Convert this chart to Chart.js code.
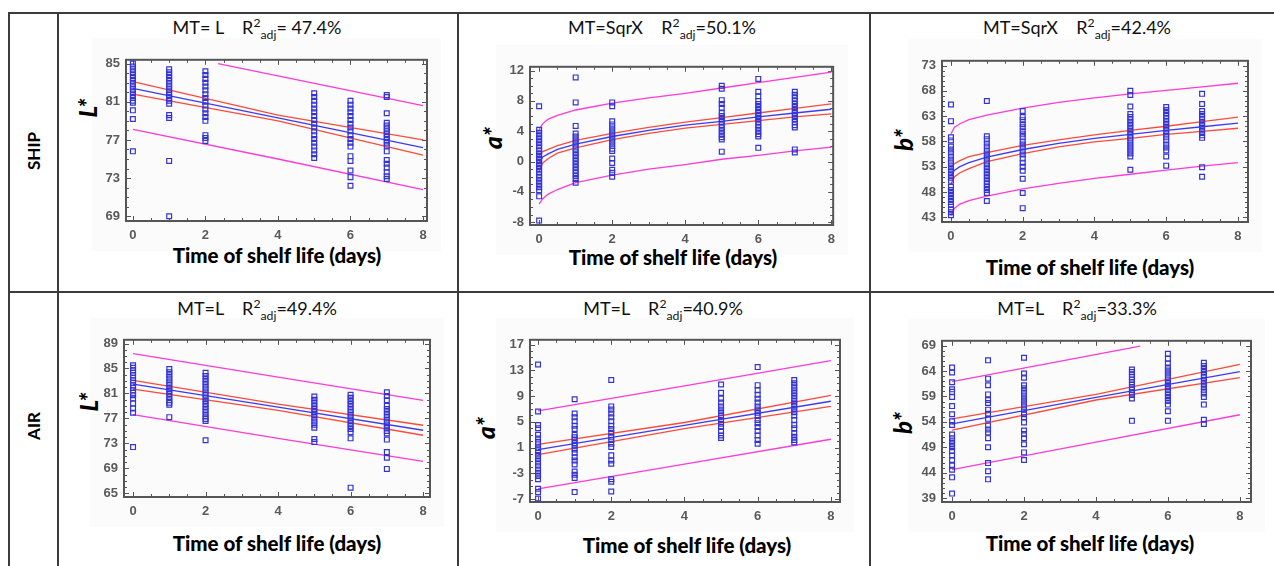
<!DOCTYPE html>
<html>
<head>
<meta charset="utf-8">
<script src="https://cdn.jsdelivr.net/npm/chart.js@4.4.1/dist/chart.umd.min.js"></script>
<style>
    body { margin: 0; width: 1274px; height: 566px; background: #fff; position: relative; overflow: hidden; font-family: Lato, 'Open Sans', sans-serif; color: #111; }
    .line { position: absolute; background: #3c3c3c; }
    .bg { position: absolute; background: #fbfbfb; }
    .title { position: absolute; transform: translate(-50%, -50%); font-size: 18px; white-space: pre; }
    .title sup, .title sub { font-size: 0.68em; line-height: 0; }
    .xt { position: absolute; transform: translate(-50%, -50%); font-size: 20.5px; font-weight: 900; white-space: pre; color: #000; }
    .yt { position: absolute; transform: translate(-50%, -50%) rotate(-90deg); font-size: 24px; font-weight: 900; font-style: italic; white-space: pre; color: #000; }
    .row { position: absolute; transform: translate(-50%, -50%) rotate(-90deg); font-size: 17px; font-weight: bold; color: #000; }
    canvas { position: absolute; }
</style>
</head>
<body>
<script>
// sampling days and x positions used for the fitted lines
const days = [0, 1, 2, 5, 6, 7];
const linX = [0, 4, 8];
const sqrtX = [0, 0.1, 0.25, 0.5, 1, 2, 3, 4, 5, 6, 7, 8];
const xTicks = [0, 2, 4, 6, 8];

// SHIP - L*
const shipLTicks = [69, 73, 77, 81, 85];
const shipL = [
    [85.0, 84.7, 84.4, 84.1, 83.8, 83.5, 83.2, 82.9, 82.6, 82.3, 82.0, 81.7, 81.4, 81.1, 80.9, 80.1, 79.2, 75.8],
    [84.4, 84.1, 83.8, 83.5, 83.2, 82.9, 82.6, 82.3, 82.0, 81.7, 81.4, 81.1, 80.8, 79.6, 79.3, 74.8, 69.0],
    [84.2, 83.8, 83.4, 83.0, 82.6, 82.2, 81.8, 81.4, 81.0, 80.6, 80.2, 79.8, 79.4, 79.0, 77.5, 77.2, 76.9],
    [81.9, 81.5, 81.1, 80.7, 80.3, 79.9, 79.5, 79.1, 78.7, 78.3, 77.9, 77.5, 77.1, 76.7, 76.3, 75.9, 75.5, 75.1],
    [81.1, 80.7, 80.3, 79.9, 79.5, 79.1, 78.7, 78.3, 77.9, 77.5, 77.1, 76.7, 76.3, 75.3, 74.8, 73.8, 73.1, 72.2],
    [81.7, 81.5, 79.8, 78.8, 78.5, 78.2, 77.9, 77.6, 77.3, 77.0, 76.7, 76.4, 75.8, 74.9, 74.5, 74.1, 73.6, 73.2, 72.9]
];
const shipLFit = [82.4, 79.3, 76.2];
const shipLConfHi = [83.1, 79.6, 77.0];
const shipLConfLo = [81.8, 79.0, 75.4];
const shipLPredHiX = [2.35, 8];
const shipLPredHi = [85.0, 80.6];
const shipLPredLo = [78.1, 75.0, 71.8];

// SHIP - a*
const shipATicks = [-8, -4, 0, 4, 8, 12];
const shipA = [
    [7.3, 4.2, 3.8, 3.4, 3.0, 2.6, 2.2, 1.8, 1.4, 1.0, 0.6, 0.2, -0.2, -0.6, -1.0, -1.4, -1.8, -2.2, -2.6, -3.0, -3.4, -3.8, -4.6, -7.8],
    [11.1, 7.8, 4.7, 3.7, 3.3, 2.9, 2.5, 2.1, 1.7, 1.3, 0.9, 0.5, 0.1, -0.3, -0.7, -1.1, -1.5, -1.9, -2.3, -2.8],
    [7.8, 7.3, 5.3, 4.9, 4.5, 4.1, 3.7, 3.3, 2.9, 2.5, 2.1, 1.7, 1.4, 0.4, -0.2, -1.1, -1.5, -2.0],
    [10.0, 9.6, 8.1, 7.6, 7.1, 6.4, 6.0, 5.6, 5.2, 4.8, 4.4, 4.0, 3.6, 3.2, 2.9, 1.3],
    [10.9, 9.2, 8.6, 8.0, 7.6, 7.2, 6.8, 6.4, 6.0, 5.6, 5.2, 4.8, 4.4, 4.0, 3.6, 3.3, 1.8],
    [9.2, 8.8, 8.4, 8.0, 7.6, 7.2, 6.8, 6.4, 6.0, 5.6, 5.2, 4.8, 4.5, 1.6, 1.2]
];
const shipAFit = [-0.2, 0.6, 1.0, 1.6, 2.3, 3.3, 4.1, 4.8, 5.3, 5.9, 6.4, 6.9];
const shipAConfHi = [0.8, 1.3, 1.6, 2.1, 2.8, 3.7, 4.5, 5.2, 5.8, 6.4, 7.0, 7.6];
const shipAConfLo = [-1.2, -0.2, 0.4, 1.1, 1.8, 2.9, 3.7, 4.4, 4.9, 5.4, 5.9, 6.3];
const shipAPredHi = [4.2, 5.0, 5.6, 6.1, 6.8, 7.7, 8.4, 9.0, 9.7, 10.4, 11.1, 11.8];
const shipAPredLo = [-5.6, -4.9, -4.3, -3.7, -2.8, -1.8, -1.0, -0.4, 0.3, 0.8, 1.4, 1.9];

// SHIP - b*
const shipBTicks = [43, 48, 53, 58, 63, 68, 73];
const shipB = [
    [65.3, 62.0, 58.8, 58.2, 57.0, 56.4, 55.8, 55.0, 54.4, 53.8, 53.2, 52.6, 52.0, 51.4, 50.8, 50.2, 49.0, 48.4, 47.8, 47.2, 46.6, 46.0, 45.4, 44.6, 44.0, 43.4],
    [66.0, 59.0, 58.4, 57.6, 57.0, 56.2, 55.6, 55.0, 54.4, 53.8, 53.2, 52.6, 52.0, 51.4, 50.8, 50.2, 49.6, 49.0, 48.4, 47.8, 46.2],
    [64.0, 62.8, 62.2, 61.4, 60.8, 60.0, 59.4, 58.8, 58.0, 57.4, 56.8, 56.0, 55.4, 54.6, 53.8, 53.0, 52.2, 50.6, 47.8, 44.8],
    [68.0, 67.2, 64.9, 63.4, 62.8, 62.2, 61.6, 61.0, 60.4, 59.8, 59.2, 58.6, 58.0, 57.4, 56.8, 56.2, 55.6, 55.0, 52.4],
    [64.8, 64.2, 63.6, 63.0, 62.4, 61.8, 61.2, 60.6, 60.0, 59.4, 58.8, 58.2, 57.4, 56.8, 56.2, 55.0, 53.2],
    [67.4, 65.4, 64.0, 63.4, 62.8, 62.2, 61.6, 61.0, 60.4, 59.8, 59.2, 58.7, 52.9, 51.0]
];
const shipBFit = [51.2, 52.3, 53.0, 53.8, 54.9, 56.4, 57.6, 58.6, 59.4, 60.2, 60.9, 61.6];
const shipBConfHi = [52.8, 53.6, 54.2, 55.0, 55.8, 57.2, 58.3, 59.3, 60.2, 61.0, 61.9, 62.8];
const shipBConfLo = [49.6, 51.0, 51.8, 52.6, 54.0, 55.6, 56.9, 57.9, 58.6, 59.4, 60.0, 60.6];
const shipBPredHi = [59.5, 60.8, 61.5, 62.3, 63.2, 64.6, 65.7, 66.6, 67.4, 68.1, 68.8, 69.5];
const shipBPredLo = [43.3, 44.8, 45.6, 46.3, 47.2, 48.6, 49.7, 50.7, 51.5, 52.3, 53.1, 53.8];

// AIR - L*
const airLTicks = [65, 69, 73, 77, 81, 85, 89];
const airL = [
    [85.5, 85.1, 84.7, 84.3, 83.9, 83.5, 83.1, 82.7, 82.3, 81.9, 81.5, 81.1, 80.7, 80.2, 79.4, 78.6, 77.9, 72.4],
    [84.9, 84.4, 83.9, 83.4, 82.9, 82.4, 81.9, 81.4, 80.9, 80.4, 79.9, 79.5, 79.2, 77.2],
    [84.3, 83.8, 83.3, 82.8, 82.3, 81.8, 81.3, 80.8, 80.3, 79.8, 79.3, 78.8, 78.3, 77.8, 77.3, 76.9, 76.6, 73.5],
    [80.5, 80.0, 79.5, 79.0, 78.5, 78.0, 77.5, 77.0, 76.5, 76.0, 75.5, 73.7, 73.2],
    [80.8, 80.3, 79.8, 79.3, 78.8, 78.3, 77.8, 77.3, 76.8, 76.3, 75.8, 75.3, 74.8, 73.8, 65.9],
    [81.2, 80.6, 79.9, 79.0, 78.5, 78.0, 77.5, 77.0, 76.5, 76.0, 75.5, 75.0, 74.6, 73.6, 71.6, 70.7, 68.9]
];
const airLFit = [82.5, 78.8, 75.1];
const airLConfHi = [83.1, 79.3, 75.9];
const airLConfLo = [81.7, 78.3, 74.3];
const airLPredHi = [87.4, 83.6, 79.9];
const airLPredLo = [77.6, 73.8, 70.1];

// AIR - a*
const airATicks = [-7, -3, 1, 5, 9, 13, 17];
const airA = [
    [13.9, 6.6, 4.5, 4.0, 3.0, 2.4, 1.9, 1.5, 1.0, 0.6, 0.2, -0.3, -0.8, -1.3, -1.8, -2.4, -2.9, -3.4, -3.9, -5.4, -5.9, -6.9],
    [8.5, 6.3, 5.7, 5.1, 4.4, 3.9, 3.0, 2.6, 2.2, 1.7, 1.3, 0.7, 0.2, -0.5, -1.0, -1.6, -2.7, -3.2, -3.7, -5.9],
    [11.5, 7.4, 6.9, 6.3, 5.7, 5.1, 4.4, 3.9, 3.3, 2.7, 2.2, 1.6, 1.1, -0.2, -1.0, -1.5, -3.9, -4.3, -5.8],
    [10.8, 9.5, 8.6, 8.0, 7.4, 6.9, 6.4, 5.9, 5.3, 4.7, 4.2, 3.6, 2.9, 2.5],
    [13.5, 10.7, 9.9, 9.2, 8.6, 8.0, 7.4, 6.9, 6.4, 5.9, 5.3, 4.8, 4.2, 3.6, 2.9, 2.2, 1.6],
    [11.5, 11.0, 10.5, 10.0, 9.5, 9.0, 8.5, 8.0, 7.5, 7.0, 6.5, 6.0, 5.3, 4.5, 4.0, 3.2, 2.7, 2.2, 1.8]
];
const airAFit = [0.7, 4.45, 8.2];
const airAConfHi = [1.5, 4.9, 9.1];
const airAConfLo = [-0.1, 3.95, 7.4];
const airAPredHi = [6.7, 10.6, 14.5];
const airAPredLo = [-5.4, -1.55, 2.3];

// AIR - b*
const airBTicks = [39, 44, 49, 54, 59, 64, 69];
const airB = [
    [64.7, 63.7, 61.8, 60.4, 59.9, 58.9, 57.1, 55.5, 54.1, 53.4, 51.5, 50.8, 50.2, 49.6, 49.0, 48.3, 47.4, 46.5, 45.4, 44.6, 43.1, 39.9],
    [66.1, 62.5, 61.2, 59.4, 58.3, 57.7, 56.4, 55.6, 54.6, 53.3, 52.5, 51.9, 50.8, 49.0, 45.9, 44.3, 42.7],
    [66.6, 63.5, 62.7, 61.2, 60.6, 60.0, 59.4, 58.8, 58.2, 57.6, 57.0, 56.4, 55.5, 54.9, 53.9, 52.3, 51.6, 50.8, 49.6, 48.0, 46.5],
    [64.3, 63.8, 63.3, 62.8, 62.3, 61.8, 61.3, 60.8, 60.3, 59.8, 59.3, 58.6, 54.2],
    [67.4, 66.4, 65.5, 64.7, 64.1, 63.5, 62.9, 62.3, 61.7, 61.1, 60.5, 59.9, 59.3, 58.7, 58.1, 57.4, 56.1, 54.2],
    [65.6, 65.0, 64.4, 63.8, 63.2, 62.6, 62.0, 61.4, 60.8, 60.2, 59.6, 58.9, 57.4, 54.4, 53.6]
];
const airBFit = [53.6, 58.8, 63.9];
const airBConfHi = [54.6, 59.4, 65.3];
const airBConfLo = [52.4, 58.3, 62.7];
const airBPredHiX = [0, 5.23];
const airBPredHi = [61.9, 68.9];
const airBPredLo = [44.6, 50.0, 55.4];

const FIT = '#3b3bf5', CONF = '#ff4a3a', PRED = '#ff3ad8', PTS = '#3434d6';

const panels = [
    { frame: [126, 52, 427, 221], xr: [-0.19, 8.11], yr: [68.5, 85.4], yTicks: shipLTicks, pts: shipL,
      lines: [[linX, shipLPredLo, PRED], [shipLPredHiX, shipLPredHi, PRED], [linX, shipLConfHi, CONF], [linX, shipLConfLo, CONF], [linX, shipLFit, FIT]],
      title: 'MT= L    R<sup>2</sup><sub>adj</sub>= 47.4%', tPos: [257, 27], xtPos: [277, 255], yt: 'L*', ytPos: [87, 108] },
    { frame: [530, 59, 834, 225], xr: [-0.25, 8.05], yr: [-8.38, 12.5], yTicks: shipATicks, pts: shipA,
      lines: [[sqrtX, shipAPredLo, PRED], [sqrtX, shipAPredHi, PRED], [sqrtX, shipAConfHi, CONF], [sqrtX, shipAConfLo, CONF], [sqrtX, shipAFit, FIT]],
      title: 'MT=SqrX    R<sup>2</sup><sub>adj</sub>=50.1%', tPos: [662, 27], xtPos: [673, 257], yt: 'a*', ytPos: [492, 138] },
    { frame: [942, 53, 1248, 222], xr: [-0.25, 8.28], yr: [42.06, 73.94], yTicks: shipBTicks, pts: shipB,
      lines: [[sqrtX, shipBPredLo, PRED], [sqrtX, shipBPredHi, PRED], [sqrtX, shipBConfHi, CONF], [sqrtX, shipBConfLo, CONF], [sqrtX, shipBFit, FIT]],
      title: 'MT=SqrX    R<sup>2</sup><sub>adj</sub>=42.4%', tPos: [1077, 27], xtPos: [1090, 267], yt: 'b*', ytPos: [903, 140] },
    { frame: [124, 332, 430, 497], xr: [-0.25, 8.19], yr: [64.4, 89.6], yTicks: airLTicks, pts: airL,
      lines: [[linX, airLPredLo, PRED], [linX, airLPredHi, PRED], [linX, airLConfHi, CONF], [linX, airLConfLo, CONF], [linX, airLFit, FIT]],
      title: 'MT=L    R<sup>2</sup><sub>adj</sub>=49.4%', tPos: [257, 308], xtPos: [277, 543], yt: 'L*', ytPos: [88, 402] },
    { frame: [530, 332, 840, 502], xr: [-0.22, 8.25], yr: [-7.44, 17.74], yTicks: airATicks, pts: airA,
      lines: [[linX, airAPredLo, PRED], [linX, airAPredHi, PRED], [linX, airAConfHi, CONF], [linX, airAConfLo, CONF], [linX, airAFit, FIT]],
      title: 'MT=L    R<sup>2</sup><sub>adj</sub>=40.9%', tPos: [663, 308], xtPos: [687, 545], yt: 'a*', ytPos: [485, 428] },
    { frame: [942, 333, 1251, 502], xr: [-0.28, 8.31], yr: [38.25, 69.94], yTicks: airBTicks, pts: airB,
      lines: [[linX, airBPredLo, PRED], [airBPredHiX, airBPredHi, PRED], [linX, airBConfHi, CONF], [linX, airBConfLo, CONF], [linX, airBFit, FIT]],
      title: 'MT=L    R<sup>2</sup><sub>adj</sub>=33.3%', tPos: [1077, 308], xtPos: [1090, 543], yt: 'b*', ytPos: [902, 423] }
];

function addDiv(cls, x, y, html, css) {
    const d = document.createElement('div');
    d.className = cls;
    d.style.left = x + 'px';
    d.style.top = y + 'px';
    if (html) d.innerHTML = html;
    if (css) Object.assign(d.style, css);
    document.body.appendChild(d);
    return d;
}

// table grid
addDiv('line', 8, 12, '', { width: '1266px', height: '1.5px' });
addDiv('line', 8, 291, '', { width: '1266px', height: '1.5px' });
addDiv('line', 8, 12, '', { width: '1.5px', height: '554px' });
addDiv('line', 57, 12, '', { width: '1.5px', height: '554px' });
addDiv('line', 457, 12, '', { width: '1.5px', height: '554px' });
addDiv('line', 869, 12, '', { width: '1.5px', height: '554px' });
addDiv('row', 33, 151, 'SHIP');
addDiv('row', 33, 426, 'AIR');

// frame + inner minor ticks drawn from the scales
const framePlugin = {
    id: 'frame',
    beforeDatasetsDraw(chart) {
        const { ctx, chartArea: a, scales: { x, y } } = chart;
        const yt = chart.options.plugins.frame.yTicks;
        ctx.save();
        ctx.strokeStyle = '#555';
        ctx.lineWidth = 1;
        ctx.beginPath();
        for (let v = 0; v <= 8; v += 0.5) {
            const px = Math.round(x.getPixelForValue(v)) + 0.5;
            const len = v % 2 === 0 ? 5 : 3;
            ctx.moveTo(px, a.bottom); ctx.lineTo(px, a.bottom - len);
            ctx.moveTo(px, a.top); ctx.lineTo(px, a.top + len);
        }
        for (let v = yt[0]; v <= yt[yt.length - 1]; v += 1) {
            const py = Math.round(y.getPixelForValue(v)) + 0.5;
            const len = yt.includes(v) ? 5 : 3;
            ctx.moveTo(a.left, py); ctx.lineTo(a.left + len, py);
            ctx.moveTo(a.right, py); ctx.lineTo(a.right - len, py);
        }
        ctx.stroke();
        ctx.lineWidth = 2;
        ctx.strokeRect(a.left, a.top, a.right - a.left, a.bottom - a.top);
        ctx.restore();
    }
};

const YW = 44, XH = 26, PT = 6, PR = 8;

panels.forEach(p => {
    const [l, t, r, b] = p.frame;
    addDiv('bg', l - 34, t - 14, '', { width: (r - l + 48) + 'px', height: (b - t + 44) + 'px' });
    addDiv('title', p.tPos[0], p.tPos[1], p.title);
    addDiv('xt', p.xtPos[0], p.xtPos[1], 'Time of shelf life (days)');
    addDiv('yt', p.ytPos[0], p.ytPos[1], p.yt);

    const canvas = document.createElement('canvas');
    canvas.width = r - l + YW + PR;
    canvas.height = b - t + PT + XH;
    canvas.style.left = (l - YW) + 'px';
    canvas.style.top = (t - PT) + 'px';
    document.body.appendChild(canvas);

    const datasets = [];
    p.pts.forEach((vals, i) => {
        datasets.push({
            type: 'scatter',
            data: vals.map(v => ({ x: days[i], y: v })),
            pointStyle: 'rect',
            pointRadius: 3.4,
            borderColor: PTS,
            backgroundColor: 'rgba(0,0,0,0)',
            borderWidth: 1.2
        });
    });
    p.lines.forEach(([xs, ys, color]) => {
        datasets.push({
            type: 'line',
            data: ys.map((v, i) => ({ x: xs[i], y: v })),
            borderColor: color,
            borderWidth: 1.3,
            pointRadius: 0,
            fill: false,
            tension: 0
        });
    });

    const tickFont = { family: "'Liberation Sans', Arial, sans-serif", size: 13, weight: 'bold' };
    new Chart(canvas.getContext('2d'), {
        type: 'scatter',
        data: { datasets },
        plugins: [framePlugin],
        options: {
            responsive: false,
            animation: false,
            layout: { padding: { left: 0, top: PT, right: PR, bottom: 0 } },
            plugins: {
                legend: { display: false },
                tooltip: { enabled: false },
                frame: { yTicks: p.yTicks }
            },
            scales: {
                x: {
                    type: 'linear',
                    min: p.xr[0], max: p.xr[1],
                    afterBuildTicks: s => { s.ticks = xTicks.map(v => ({ value: v })); },
                    afterFit: s => { s.height = XH; },
                    grid: { display: false, drawTicks: false },
                    border: { display: false },
                    ticks: { padding: 7, color: '#5a5a5a', font: tickFont, maxRotation: 0 }
                },
                y: {
                    type: 'linear',
                    min: p.yr[0], max: p.yr[1],
                    afterBuildTicks: s => { s.ticks = p.yTicks.map(v => ({ value: v })); },
                    afterFit: s => { s.width = YW; },
                    grid: { display: false, drawTicks: false },
                    border: { display: false },
                    ticks: { padding: 6, color: '#5a5a5a', font: tickFont }
                }
            }
        }
    });
});
</script>
</body>
</html>
